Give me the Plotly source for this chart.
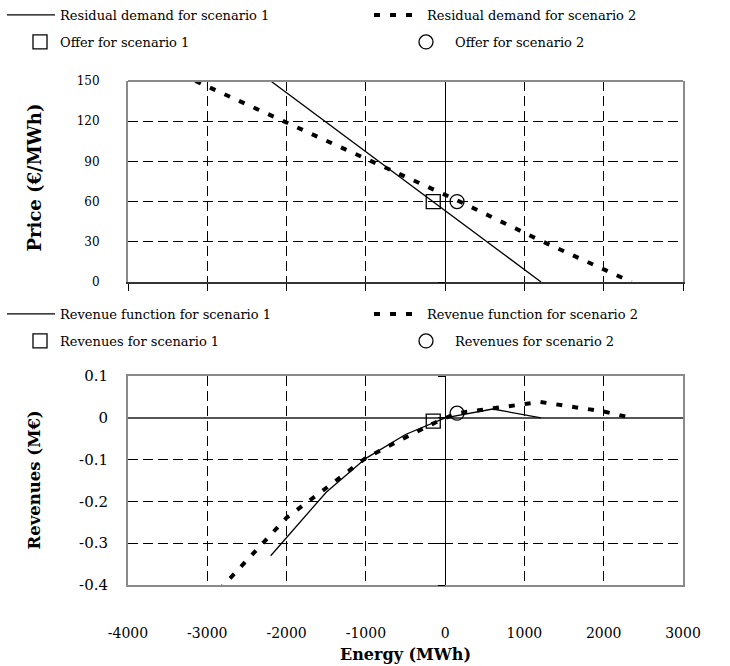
import plotly.graph_objects as go

# ---------------- data ----------------
# Top panel: residual demand curves (Energy MWh -> Price EUR/MWh)
energy_rd1 = [-2200, 1210]
price_rd1 = [150, 0]
energy_rd2 = [-3150, -2000, -1200, -100, 150, 1200, 2350]
price_rd2 = [150, 119, 97, 67.5, 61, 31, 0]
offer1_energy = [-150]
offer1_price = [60]
offer2_energy = [150]
offer2_price = [60]

# Bottom panel: revenue functions (Energy MWh -> Revenues M EUR)
energy_rev1 = [-2200, -1500, -1000, -500, 0, 600, 1210]
rev1 = [-0.33, -0.178, -0.097, -0.04, 0, 0.021, 0]
energy_rev2 = [-2850, -2000, -1500, -1000, -500, -100, 150, 600, 1200, 2000, 2350]
rev2 = [-0.412, -0.239, -0.168, -0.096, -0.047, -0.009, 0.011, 0.023, 0.038, 0.015, 0]
revenue1_energy = [-150]
revenue1 = [-0.008]
revenue2_energy = [150]
revenue2 = [0.011]

x_ticks = [-4000, -3000, -2000, -1000, 0, 1000, 2000, 3000]
x_ticktext = ["-4000", "-3000", "-2000", "-1000", "0", "1000", "2000", "3000"]
price_ticks = [0, 30, 60, 90, 120, 150]
rev_ticks = [-0.4, -0.3, -0.2, -0.1, 0, 0.1]
rev_ticktext = ["-0.4", "-0.3", "-0.2", "-0.1", "0", "0.1"]

# ---------------- styles ----------------
FONT = "DejaVu Serif"
DOT = "6px,10px"
GRID_DASH = "10px,5px"

W, H = 730, 666
ML, MR, MT, MB = 128, 47, 81, 81
plot_h = H - MT - MB
top_dom = [(585 - 282) / plot_h, 1.0]
bot_dom = [0.0, (585 - 376) / plot_h]


def py(pix):
    return (585 - pix) / plot_h


def px(pix):
    return (pix - ML) / (W - ML - MR)


fig = go.Figure()

line1 = dict(color="black", width=1.3)
line2 = dict(color="black", width=4, dash=DOT)
sq = dict(symbol="square-open", size=14, color="black", line=dict(width=1.3))
ci = dict(symbol="circle-open", size=14, color="black", line=dict(width=1.3))

fig.add_trace(go.Scatter(x=energy_rd1, y=price_rd1, mode="lines", line=line1,
                         name="Residual demand for scenario 1",
                         xaxis="x", yaxis="y", legend="legend"))
fig.add_trace(go.Scatter(x=energy_rd2, y=price_rd2, mode="lines", line=line2,
                         name="Residual demand for scenario 2",
                         xaxis="x", yaxis="y", legend="legend2", cliponaxis=False))
fig.add_trace(go.Scatter(x=offer1_energy, y=offer1_price, mode="markers", marker=sq,
                         name="Offer for scenario 1",
                         xaxis="x", yaxis="y", legend="legend3"))
fig.add_trace(go.Scatter(x=offer2_energy, y=offer2_price, mode="markers", marker=ci,
                         name="Offer for scenario 2",
                         xaxis="x", yaxis="y", legend="legend4"))

fig.add_trace(go.Scatter(x=energy_rev1, y=rev1, mode="lines", line=line1,
                         name="Revenue function for scenario 1",
                         xaxis="x2", yaxis="y2", legend="legend5"))
fig.add_trace(go.Scatter(x=energy_rev2, y=rev2, mode="lines", line=line2,
                         name="Revenue function for scenario 2",
                         xaxis="x2", yaxis="y2", legend="legend6", cliponaxis=False))
fig.add_trace(go.Scatter(x=revenue1_energy, y=revenue1, mode="markers", marker=sq,
                         name="Revenues for scenario 1",
                         xaxis="x2", yaxis="y2", legend="legend7"))
fig.add_trace(go.Scatter(x=revenue2_energy, y=revenue2, mode="markers", marker=ci,
                         name="Revenues for scenario 2",
                         xaxis="x2", yaxis="y2", legend="legend8"))

# empty helper traces so that the tick-only axes at Energy = 0 are drawn
fig.add_trace(go.Scatter(x=[None], y=[None], xaxis="x", yaxis="y3",
                         showlegend=False, hoverinfo="skip"))
fig.add_trace(go.Scatter(x=[None], y=[None], xaxis="x2", yaxis="y4",
                         showlegend=False, hoverinfo="skip"))

common_x = dict(range=[-4000, 3000], tickvals=x_ticks, ticktext=x_ticktext,
                showgrid=True, gridcolor="black", gridwidth=1, griddash=GRID_DASH,
                zeroline=True, zerolinecolor="black", zerolinewidth=1.2)


# legend text start (px) and row centre (px): symbol area is itemwidth + 10 wide
def leg(text_x, row_y, iw=48):
    return dict(x=px(text_x - iw - 10), y=py(row_y), orientation="h",
                xanchor="left", yanchor="middle", bgcolor="rgba(0,0,0,0)",
                font=dict(family=FONT, size=13, color="black"), itemwidth=iw)


fig.update_layout(
    width=W, height=H,
    margin=dict(l=ML, r=MR, t=MT, b=MB, autoexpand=False),
    paper_bgcolor="white", plot_bgcolor="white",
    font=dict(family=FONT, color="black"),
    xaxis=dict(domain=[0, 1], anchor="y", showticklabels=False,
               ticks="outside", ticklen=7, tickcolor="black", tickwidth=1,
               showline=True, linecolor="#333333", linewidth=2, **common_x),
    yaxis=dict(domain=top_dom, anchor="x", range=[0, 150], tickvals=price_ticks,
               showgrid=True, gridcolor="black", gridwidth=1, griddash=GRID_DASH,
               zeroline=False, showline=True, linecolor="#8a8a8a", linewidth=2,
               mirror=True, ticks="", ticklabelstandoff=24,
               tickfont=dict(family=FONT, size=12, color="black")),
    xaxis2=dict(domain=[0, 1], anchor="y2", ticks="", showline=True,
                linecolor="#8a8a8a", linewidth=2, mirror=True,
                ticklabelstandoff=34,
                tickfont=dict(family=FONT, size=14, color="black"), **common_x),
    yaxis2=dict(domain=bot_dom, anchor="x2", range=[-0.4, 0.1], tickvals=rev_ticks,
                ticktext=rev_ticktext,
                showgrid=True, gridcolor="black", gridwidth=1, griddash=GRID_DASH,
                zeroline=True, zerolinecolor="#555555", zerolinewidth=1.5,
                showline=True, linecolor="#8a8a8a", linewidth=2, mirror=True,
                ticks="", ticklabelstandoff=15,
                tickfont=dict(family=FONT, size=15, color="black")),
    yaxis3=dict(overlaying="y", anchor="free", position=4 / 7, side="left",
                range=[0, 150], tickvals=price_ticks, ticks="outside", ticklen=7,
                tickcolor="black", showticklabels=False, showgrid=False,
                zeroline=False, showline=False),
    yaxis4=dict(overlaying="y2", anchor="free", position=4 / 7, side="left",
                range=[-0.4, 0.1], tickvals=rev_ticks, ticks="outside", ticklen=7,
                tickcolor="black", showticklabels=False, showgrid=False,
                zeroline=False, showline=False),
    legend=leg(60, 15),
    legend2=leg(427, 15),
    legend3=leg(60, 42, 30),
    legend4=leg(455, 42),
    legend5=leg(60, 314),
    legend6=leg(427, 314),
    legend7=leg(60, 341, 30),
    legend8=leg(455, 341),
    showlegend=True,
)

# gray top border of the upper panel
fig.add_shape(type="line", xref="x domain", yref="y domain", x0=0, x1=1, y0=1, y1=1,
              line=dict(color="#8a8a8a", width=2))

fig.add_annotation(text="<b>Price (€/MWh)</b>", textangle=-90, xref="paper", yref="y domain",
                   x=0, y=0.52, xanchor="center", yanchor="middle", xshift=-94,
                   showarrow=False, font=dict(family=FONT, size=18, color="black"))
fig.add_annotation(text="<b>Revenues (M€)</b>", textangle=-90, xref="paper", yref="y2 domain",
                   x=0, y=0.5, xanchor="center", yanchor="middle", xshift=-94,
                   showarrow=False, font=dict(family=FONT, size=16.5, color="black"))
fig.add_annotation(text="<b>Energy (MWh)</b>", xref="paper", yref="paper",
                   x=0.5, y=py(654), xanchor="center", yanchor="middle", showarrow=False,
                   font=dict(family=FONT, size=16, color="black"))

fig.write_html("out.html")
